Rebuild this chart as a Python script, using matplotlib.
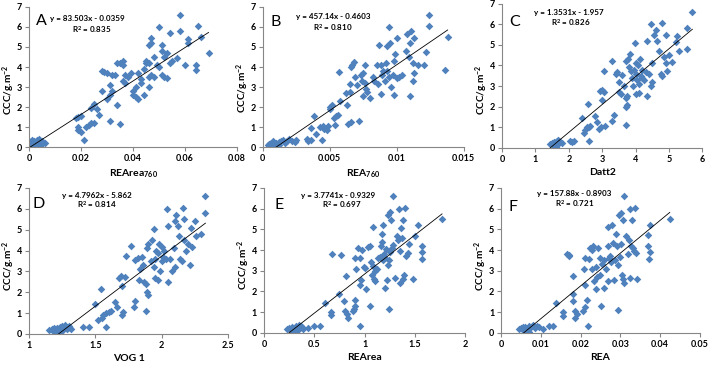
import matplotlib.pyplot as plt

plt.rcParams['font.family'] = ['Lato', 'DejaVu Sans']
plt.rcParams['mathtext.fontset'] = 'custom'
plt.rcParams['mathtext.rm'] = 'Lato:bold'
plt.rcParams['mathtext.bf'] = 'Lato:bold'
plt.rcParams['mathtext.default'] = 'bf'

# panel A: REArea760
a_x = [0.0, 0.001, 0.001, 0.002, 0.002, 0.003, 0.003, 0.004, 0.004, 0.005, 0.005, 0.006, 0.0005, 0.002, 0.004,
       0.018, 0.019, 0.02, 0.019, 0.019, 0.02, 0.021, 0.022, 0.023, 0.024, 0.025, 0.024, 0.025, 0.026, 0.027,
       0.028, 0.028, 0.029, 0.03, 0.030, 0.031, 0.031, 0.031, 0.032, 0.032, 0.033, 0.034, 0.035, 0.035, 0.036,
       0.036, 0.037, 0.036, 0.037, 0.038, 0.034,
       0.039, 0.040, 0.040, 0.041, 0.041, 0.042, 0.042, 0.043, 0.043, 0.044, 0.044, 0.045, 0.045, 0.046, 0.046,
       0.046, 0.046, 0.047, 0.047, 0.047, 0.048, 0.048,
       0.049, 0.050, 0.050, 0.051, 0.051, 0.051, 0.052, 0.052, 0.053, 0.053, 0.054, 0.054, 0.055,
       0.057, 0.058, 0.058, 0.060, 0.061, 0.061, 0.064, 0.064, 0.065, 0.066, 0.069]
a_y = [0.3, 0.35, 0.2, 0.3, 0.1, 0.35, 0.2, 0.4, 0.25, 0.3, 0.15, 0.2, 0.1, 0.05, 0.1,
       1.45, 1.5, 1.55, 1.0, 0.85, 0.75, 0.35, 1.0, 1.1, 1.2, 1.2, 1.95, 2.15, 1.9, 1.6,
       2.8, 3.8, 3.75, 3.7, 2.4, 3.1, 2.6, 1.3, 3.6, 2.8, 3.6, 2.1, 1.15, 4.2, 4.3,
       4.1, 3.6, 3.3, 3.2, 3.5, 4.2,
       3.7, 2.8, 2.6, 2.5, 3.0, 2.4, 3.7, 3.2, 3.4, 2.6, 3.9, 4.3, 4.2, 4.2, 3.5,
       3.0, 5.1, 5.2, 5.45, 3.6, 3.5, 4.5,
       4.1, 6.0, 4.0, 5.1, 4.8, 3.6, 4.5, 3.5, 4.7, 3.45, 5.7, 4.2, 4.3,
       4.45, 5.8, 6.6, 4.1, 5.4, 5.2, 4.1, 3.85, 6.05, 5.5, 4.7]

# panel B: REA760
b_x = [0.0004, 0.0005, 0.0006, 0.0008, 0.001, 0.0012, 0.0014, 0.0015, 0.0017, 0.0018, 0.002, 0.0022, 0.0024,
       0.0025, 0.0007, 0.0012,
       0.0033, 0.0034, 0.0036, 0.0036, 0.0038, 0.004, 0.0043, 0.0044, 0.0045, 0.0046, 0.0048, 0.0049, 0.005,
       0.005, 0.0052, 0.0053, 0.0054, 0.0055, 0.0056, 0.0057, 0.0058, 0.0062, 0.0063, 0.0064, 0.0065, 0.0065,
       0.0066, 0.0066, 0.0067, 0.0068, 0.0069, 0.007, 0.0072, 0.0073, 0.0074, 0.0075, 0.0075, 0.0076, 0.0076,
       0.0077, 0.0078, 0.008, 0.0082, 0.0083, 0.0085, 0.0086, 0.0087, 0.0088, 0.0088, 0.0089, 0.009, 0.0091,
       0.0092, 0.0093, 0.0093, 0.0094, 0.0094, 0.0095, 0.0096, 0.0097, 0.0098, 0.0098, 0.0099, 0.01, 0.01,
       0.0102, 0.0104, 0.0107, 0.0108, 0.0109, 0.011, 0.011, 0.0111, 0.0112, 0.0112, 0.0113, 0.0113, 0.0116,
       0.012, 0.0122, 0.0124, 0.0124, 0.0136, 0.0138]
b_y = [0.1, 0.15, 0.2, 0.3, 0.2, 0.25, 0.3, 0.35, 0.2, 0.3, 0.4, 0.3, 0.25,
       0.35, 0.05, 0.1,
       0.4, 0.3, 0.35, 0.95, 1.55, 0.65, 1.0, 0.35, 1.05, 0.9, 0.85, 1.05, 1.9,
       2.0, 2.1, 1.45, 1.1, 1.55, 1.6, 3.75, 2.3, 2.7, 2.1, 1.15, 2.75, 3.15,
       4.0, 1.25, 4.1, 4.25, 3.5, 3.1, 1.3, 3.6, 3.3, 2.55, 3.7, 3.2, 4.1,
       2.9, 2.75, 2.45, 3.5, 3.3, 4.1, 3.15, 5.1, 2.65, 4.1, 3.6, 3.8, 3.3,
       4.2, 5.05, 3.8, 6.0, 3.5, 5.2, 3.0, 3.6, 2.6, 4.3, 4.65, 3.45, 5.45,
       3.5, 3.6, 4.8, 5.65, 4.5, 2.55, 5.2, 5.8, 3.3, 4.2, 5.45, 3.7, 4.1,
       4.1, 4.75, 6.6, 6.05, 3.85, 5.5]

# panel C: Datt2
c_x = [1.45, 1.5, 1.52, 1.55, 1.58, 1.6, 1.62, 1.65, 1.68, 1.7, 1.72, 1.75, 1.8, 1.62, 2.05, 2.1, 2.15,
       2.4, 2.45, 2.5, 2.55, 2.58, 2.6, 2.62, 2.65, 2.8, 2.85, 2.9, 2.95, 2.98, 3.0, 3.0, 3.05, 3.05, 3.1,
       3.3, 3.3, 3.35, 3.4, 3.45, 3.5, 3.5, 3.55, 3.6, 3.65, 3.7, 3.7, 3.7, 3.72, 3.75, 3.75, 3.78, 3.8,
       3.82, 3.85, 3.9, 3.92, 3.95, 3.98, 4.0, 4.0, 4.02, 4.05, 4.08, 4.1, 4.1, 4.12, 4.15, 4.2, 4.2, 4.25,
       4.3, 4.35, 4.35, 4.4, 4.45, 4.48, 4.45, 4.5, 4.55, 4.6, 4.65, 4.7, 4.75, 4.8, 4.8, 4.85, 4.9, 4.9,
       4.95, 5.0, 5.1, 5.2, 5.25, 5.3, 5.55, 5.55, 5.7]
c_y = [0.2, 0.25, 0.15, 0.3, 0.2, 0.1, 0.3, 0.35, 0.4, 0.25, 0.35, 0.3, 0.25, 0.05, 0.35, 0.3, 0.35,
       1.45, 0.7, 0.85, 1.0, 2.15, 1.0, 0.35, 1.05, 1.55, 1.25, 0.9, 2.75, 1.0, 2.3, 2.8, 2.7, 3.75, 1.05,
       1.3, 4.2, 1.6, 3.6, 3.7, 2.7, 3.2, 2.6, 3.55, 3.0, 2.0, 2.4, 1.1, 4.2, 2.1, 2.5, 4.3, 3.9,
       4.55, 3.75, 3.4, 3.0, 3.8, 5.1, 2.6, 3.6, 4.1, 3.3, 4.0, 2.65, 3.1, 4.3, 3.5, 3.8, 3.4, 3.3,
       3.7, 2.5, 5.2, 3.6, 3.0, 4.1, 6.0, 3.2, 5.5, 5.7, 5.2, 4.7, 3.6, 6.05, 3.5, 4.4, 5.5, 4.1,
       3.75, 4.5, 4.15, 5.15, 5.45, 4.7, 5.8, 4.8, 6.6]

# panel D: VOG 1
d_x = [1.15, 1.17, 1.18, 1.19, 1.2, 1.21, 1.22, 1.23, 1.24, 1.25, 1.26, 1.27, 1.28, 1.29, 1.3, 1.31, 1.32,
       1.21, 1.25,
       1.41, 1.45, 1.5, 1.52, 1.54, 1.55, 1.56, 1.58, 1.58, 1.6, 1.62, 1.65, 1.66, 1.68, 1.69, 1.7, 1.7,
       1.71, 1.72, 1.73, 1.77, 1.79, 1.8, 1.8, 1.82, 1.83, 1.84, 1.85, 1.86, 1.87, 1.88, 1.88, 1.89, 1.89,
       1.9, 1.9, 1.92, 1.93, 1.94, 1.94, 1.95, 1.95, 1.96, 1.97, 1.97, 1.98, 1.99, 2.0, 2.0, 2.01, 2.02,
       2.03, 2.04, 2.05, 2.05, 2.06, 2.08, 2.09, 2.1, 2.1, 2.11, 2.12, 2.13, 2.14, 2.15, 2.16, 2.17, 2.17,
       2.18, 2.2, 2.21, 2.22, 2.23, 2.25, 2.26, 2.3, 2.33, 2.33]
d_y = [0.2, 0.25, 0.15, 0.3, 0.2, 0.3, 0.1, 0.35, 0.25, 0.4, 0.3, 0.45, 0.35, 0.25, 0.4, 0.3, 0.25,
       0.05, 0.15,
       0.35, 0.35, 1.45, 0.65, 2.15, 0.75, 0.9, 1.0, 0.35, 1.05, 1.1, 1.55, 1.3, 2.7, 2.8, 2.3, 0.9,
       1.05, 2.75, 3.75, 4.2, 1.3, 1.6, 3.55, 3.65, 2.6, 3.1, 3.7, 3.3, 2.5, 1.1, 2.4, 4.1, 2.0,
       4.3, 1.85, 3.5, 4.5, 3.2, 5.05, 2.7, 3.6, 4.0, 2.6, 3.9, 4.3, 3.0, 3.5, 4.15, 3.7, 4.0,
       3.6, 6.0, 2.5, 5.2, 3.6, 3.0, 4.1, 3.2, 5.4, 5.7, 5.2, 4.7, 3.6, 3.5, 6.05, 4.5, 5.5,
       4.0, 4.3, 3.3, 5.1, 4.15, 5.4, 4.7, 4.8, 6.6, 5.8]

# panel E: REArea
e_x = [0.23, 0.25, 0.27, 0.28, 0.3, 0.32, 0.33, 0.34, 0.35, 0.36, 0.37, 0.38, 0.39, 0.44, 0.5, 0.56, 0.31,
       0.61, 0.67, 0.67, 0.68, 0.75, 0.77, 0.79, 0.8, 0.81, 0.82, 0.83, 0.88, 0.89, 0.9, 0.9, 0.9, 0.91,
       0.93, 0.95, 0.95, 0.95, 0.96, 0.97, 0.99, 1.0, 1.01, 1.03, 1.05, 1.05, 1.06, 1.07, 1.08, 1.08, 1.09,
       1.1, 1.1, 1.12, 1.13, 1.15, 1.16, 1.17, 1.17, 1.18, 1.18, 1.19, 1.2, 1.2, 1.21, 1.22, 1.23, 1.23,
       1.24, 1.24, 1.25, 1.25, 1.26, 1.27, 1.28, 1.28, 1.3, 1.32, 1.33, 1.34, 1.35, 1.35, 1.36, 1.37, 1.38,
       1.38, 1.39, 1.4, 1.41, 1.43, 1.44, 1.48, 1.5, 1.53, 1.57, 1.57, 1.57, 1.77]
e_y = [0.2, 0.25, 0.15, 0.3, 0.2, 0.35, 0.1, 0.3, 0.4, 0.25, 0.35, 0.3, 0.2, 0.25, 0.35, 0.35, 0.05,
       1.45, 1.0, 0.85, 3.8, 1.9, 3.75, 1.55, 1.05, 2.75, 0.9, 0.7, 1.05, 1.15, 1.3, 1.6, 3.6, 3.1,
       4.1, 2.3, 0.35, 3.6, 2.55, 4.0, 3.2, 3.15, 2.1, 4.15, 4.2, 1.3, 3.4, 2.8, 3.25, 5.1, 2.6,
       3.0, 2.5, 3.1, 3.6, 3.65, 4.2, 4.4, 4.8, 5.2, 3.5, 3.8, 2.15, 3.6, 4.05, 2.55, 3.3, 5.7,
       3.5, 1.15, 5.85, 3.9, 5.45, 4.1, 6.6, 4.25, 2.65, 4.7, 4.5, 6.0, 3.95, 2.4, 5.05, 4.6, 5.45,
       2.6, 2.8, 6.05, 3.7, 3.85, 4.3, 2.6, 4.7, 5.2, 4.2, 3.9, 3.55, 5.5]

# panel F: REA
f_x = [0.0045, 0.005, 0.0055, 0.006, 0.0065, 0.007, 0.007, 0.0075, 0.008, 0.0085, 0.009, 0.0095, 0.0105,
       0.012, 0.013, 0.0055, 0.0065,
       0.0138, 0.0155, 0.0155, 0.0165, 0.017, 0.0172, 0.018, 0.018, 0.0182, 0.0185, 0.0185, 0.019, 0.0205,
       0.021, 0.0208, 0.021, 0.0212, 0.0215, 0.022, 0.0222, 0.0225, 0.0228, 0.023, 0.0232, 0.0235, 0.0238,
       0.024, 0.0242, 0.0245, 0.0248, 0.025, 0.0252, 0.0255, 0.026, 0.026, 0.0265, 0.0268, 0.0268, 0.027,
       0.0272, 0.0275, 0.0278, 0.028, 0.0282, 0.0285, 0.0288, 0.029, 0.0292, 0.0295, 0.0295, 0.0298, 0.03,
       0.0302, 0.0303, 0.0305, 0.0307, 0.0308, 0.031, 0.031, 0.0315, 0.032, 0.0322, 0.0325, 0.0325, 0.0328,
       0.033, 0.0332, 0.0335, 0.0338, 0.034, 0.0342, 0.037, 0.037, 0.0373, 0.0375, 0.0375, 0.0425]
f_y = [0.2, 0.25, 0.15, 0.3, 0.2, 0.35, 0.05, 0.3, 0.4, 0.25, 0.35, 0.3, 0.2,
       0.35, 0.35, 0.3, 0.1,
       1.45, 1.0, 0.8, 3.8, 3.75, 3.7, 2.75, 1.9, 1.55, 0.7, 1.05, 0.9, 1.05,
       1.25, 3.1, 2.3, 3.6, 1.6, 0.35, 3.55, 4.1, 4.0, 3.1, 4.2, 2.5, 3.2,
       2.1, 2.7, 4.1, 2.8, 3.6, 1.3, 3.35, 3.5, 2.15, 3.1, 5.1, 4.2, 2.5,
       3.6, 3.7, 3.4, 5.2, 4.35, 2.55, 3.5, 4.8, 4.2, 3.3, 1.1, 5.7, 3.65,
       4.3, 5.8, 2.8, 2.6, 5.45, 6.6, 2.4, 4.7, 3.8, 4.5, 6.0, 2.65, 4.2,
       5.45, 4.1, 3.95, 6.05, 3.85, 2.6, 4.2, 4.75, 3.55, 5.2, 3.9, 5.5]

letters = ['A', 'B', 'C', 'D', 'E', 'F']
xlabels = ['REArea$_{760}$', 'REA$_{760}$', 'Datt2', 'VOG 1', 'REArea', 'REA']
slopes = [83.503, 457.14, 1.3531, 4.7962, 3.7741, 157.88]
intercepts = [-0.0359, -0.4603, -1.957, -5.862, -0.9329, -0.8903]
equations = ['y = 83.503x - 0.0359', 'y = 457.14x - 0.4603', 'y = 1.3531x - 1.957',
             'y = 4.7962x - 5.862', 'y = 3.7741x - 0.9329', 'y = 157.88x - 0.8903']
r2_values = ['0.835', '0.810', '0.826', '0.814', '0.697', '0.721']
xlims = [(0, 0.08), (0, 0.015), (0, 6), (1, 2.5), (0, 2), (0, 0.05)]
xticks = [[0, 0.02, 0.04, 0.06, 0.08], [0, 0.005, 0.01, 0.015], [0, 1, 2, 3, 4, 5, 6],
          [1, 1.5, 2, 2.5], [0, 0.5, 1, 1.5, 2], [0, 0.01, 0.02, 0.03, 0.04, 0.05]]
xticklabels = [['0', '0.02', '0.04', '0.06', '0.08'], ['0', '0.005', '0.01', '0.015'],
               ['0', '1', '2', '3', '4', '5', '6'], ['1', '1.5', '2', '2.5'],
               ['0', '0.5', '1', '1.5', '2'], ['0', '0.01', '0.02', '0.03', '0.04', '0.05']]
xs = [a_x, b_x, c_x, d_x, e_x, f_x]
ys = [a_y, b_y, c_y, d_y, e_y, f_y]

boxes = [(0.041, 0.597, 0.294, 0.384), (0.371, 0.597, 0.284, 0.384), (0.709, 0.595, 0.283, 0.395),
         (0.041, 0.085, 0.281, 0.400), (0.373, 0.088, 0.284, 0.397), (0.708, 0.088, 0.280, 0.397)]
letter_pos = [(0.06, 0.90), (0.065, 0.89), (0.064, 0.87), (0.05, 0.89), (0.075, 0.88), (0.06, 0.87)]
eq_pos = [(0.28, 0.92), (0.35, 0.935), (0.335, 0.94), (0.34, 0.95), (0.37, 0.95), (0.37, 0.96)]
r2_pos = [(0.30, 0.84), (0.35, 0.855), (0.345, 0.87), (0.34, 0.89), (0.385, 0.885), (0.37, 0.89)]
ylabel_y = [0.41, 0.42, 0.40, 0.47, 0.47, 0.46]

fig = plt.figure(figsize=(7.08, 3.65), dpi=100)
for i in range(6):
    ax = fig.add_axes(boxes[i])
    ax.scatter(xs[i], ys[i], marker='D', s=15, color='#4F81BD', linewidths=0, zorder=2)
    x0 = min(xs[i])
    x1 = max(xs[i])
    ax.plot([x0, x1], [slopes[i] * x0 + intercepts[i], slopes[i] * x1 + intercepts[i]],
            color='black', lw=0.6, zorder=3)
    ax.set_xlim(*xlims[i])
    ax.set_ylim(0, 7)
    ax.set_xticks(xticks[i])
    ax.set_xticklabels(xticklabels[i])
    ax.set_yticks(range(8))
    for s in ['top', 'right']:
        ax.spines[s].set_visible(False)
    for s in ['left', 'bottom']:
        ax.spines[s].set_color('#868686')
        ax.spines[s].set_linewidth(0.8)
    ax.tick_params(length=3, width=0.8, color='#868686', labelsize=6.5, pad=2)
    for lab in ax.get_xticklabels() + ax.get_yticklabels():
        lab.set_fontweight('bold')
    ax.set_xlabel(xlabels[i], fontsize=7.5, fontweight='bold', labelpad=3)
    ax.set_ylabel('CCC/g.m$^{-2}$', fontsize=7.2, fontweight='bold')
    ax.yaxis.set_label_coords(-0.06, ylabel_y[i])
    ax.text(*letter_pos[i], letters[i], transform=ax.transAxes, fontsize=11.5,
            ha='center', va='center')
    ax.text(*eq_pos[i], equations[i], transform=ax.transAxes, fontsize=5.8,
            fontweight='bold', ha='center', va='center')
    ax.text(*r2_pos[i], 'R$^2$ = ' + r2_values[i], transform=ax.transAxes, fontsize=5.8,
            fontweight='bold', ha='center', va='center')

fig.savefig('out.png', dpi=100)
